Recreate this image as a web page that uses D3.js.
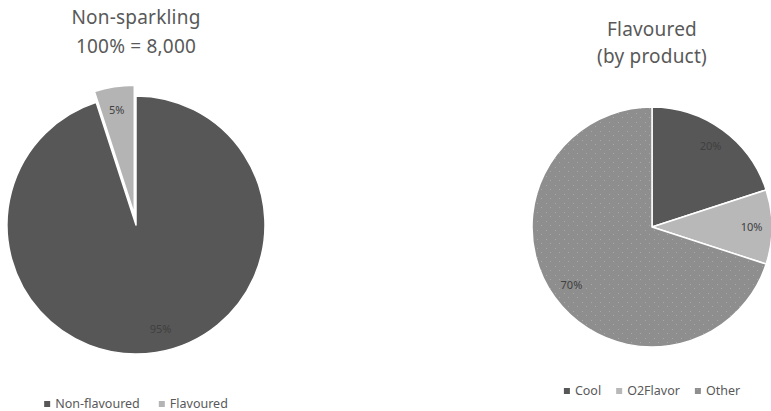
<!DOCTYPE html>
<html>
<head>
<meta charset="utf-8">
<script src="https://cdn.jsdelivr.net/npm/d3@7"></script>
<style>
  body { margin: 0; background: #fff; }
  svg { display: block; font-family: "Noto Sans", "Open Sans", sans-serif; }
  .title { fill: #595959; font-size: 19px; letter-spacing: 0.2px; }
  .legend text { fill: #595959; font-size: 12.5px; }
  .pct { fill: #404040; font-size: 11px; }
</style>
</head>
<body>
<svg id="chart" width="771" height="411"></svg>
<script>
// left pie: non-sparkling split
var leftCats = ["Non-flavoured", "Flavoured"];
var leftValues = [95, 5];
var leftTitle = ["Non-sparkling", "100% = 8,000"];

// right pie: flavoured by product
var rightCats = ["Cool", "O2Flavor", "Other"];
var rightValues = [20, 10, 70];
var rightTitle = ["Flavoured", "(by product)"];

var svg = d3.select("#chart");

var defs = svg.append("defs");
// faint dotted texture on the "Other" slice
var pat = defs.append("pattern")
    .attr("id", "dots")
    .attr("width", 9).attr("height", 9)
    .attr("patternUnits", "userSpaceOnUse");
pat.append("rect").attr("width", 9).attr("height", 9).attr("fill", "#8e8e8e");
pat.append("rect").attr("x", 2).attr("y", 3).attr("width", 1).attr("height", 1).attr("fill", "#a8a8a8");
pat.append("rect").attr("x", 6).attr("y", 7).attr("width", 1).attr("height", 1).attr("fill", "#a8a8a8");

function drawPie(cfg) {
  var g = svg.append("g");
  var pie = d3.pie().sort(null).value(function(d) { return d.v; });
  var data = pie(cfg.cats.map(function(c, i) { return { c: c, v: cfg.values[i] }; }));
  var arc = d3.arc().innerRadius(0).outerRadius(cfg.r);
  var labelArc = d3.arc().innerRadius(cfg.r * cfg.lab).outerRadius(cfg.r * cfg.lab);

  var color = d3.scaleOrdinal().domain(cfg.cats).range(cfg.colors);

  var slice = g.selectAll("g.slice")
      .data(data)
    .enter().append("g")
      .attr("class", "slice")
      .attr("transform", function(d, i) {
        var off = cfg.explode[i] || 0;
        var a = (d.startAngle + d.endAngle) / 2;
        return "translate(" + (cfg.cx + off * Math.sin(a)) + "," + (cfg.cy - off * Math.cos(a)) + ")";
      });

  slice.append("path")
      .attr("d", arc)
      .attr("fill", function(d) { return color(d.data.c); })
      .attr("stroke", "#fff")
      .attr("stroke-width", 1.5)
      .attr("stroke-linejoin", "round");

  slice.append("text")
      .attr("class", "pct")
      .attr("text-anchor", "middle")
      .attr("dy", "0.35em")
      .attr("transform", function(d, i) {
        var p = labelArc.centroid(d);
        if (cfg.labOff && cfg.labOff[i]) { p[0] += cfg.labOff[i][0]; p[1] += cfg.labOff[i][1]; }
        return "translate(" + p + ")";
      })
      .text(function(d) { return d.data.v + "%"; });

  // title
  g.selectAll("text.title")
      .data(cfg.title)
    .enter().append("text")
      .attr("class", "title")
      .attr("x", cfg.cx)
      .attr("y", function(d, i) { return cfg.titleY + i * cfg.titleGap; })
      .attr("text-anchor", "middle")
      .text(function(d) { return d; });

  // legend, centred under the pie
  var leg = g.append("g").attr("class", "legend");
  var items = leg.selectAll("g")
      .data(cfg.cats)
    .enter().append("g");
  items.append("rect")
      .attr("width", 6).attr("height", 6)
      .attr("y", -7)
      .attr("fill", function(d) { return color(d); });
  items.append("text")
      .attr("x", 11)
      .text(function(d) { return d; });

  var x = 0;
  items.each(function() {
    var w = 11 + d3.select(this).select("text").node().getComputedTextLength();
    d3.select(this).attr("transform", "translate(" + x + ",0)");
    x += w + cfg.legGap;
  });
  var total = x - cfg.legGap;
  leg.attr("transform", "translate(" + (cfg.cx - total / 2) + "," + cfg.legY + ")");
}

drawPie({
  cats: leftCats, values: leftValues, title: leftTitle,
  cx: 136, cy: 225, r: 129,
  colors: ["#575757", "#b4b4b4"],
  explode: [0, 11],
  lab: 0.82, labOff: [[8, 0], [-1, 0]],
  titleY: 24, titleGap: 29, legY: 408, legGap: 19
});

drawPie({
  cats: rightCats, values: rightValues, title: rightTitle,
  cx: 652, cy: 227, r: 120,
  colors: ["#575757", "#b8b8b8", "url(#dots)"],
  explode: [0, 0, 0],
  lab: 0.83,
  titleY: 36, titleGap: 27, legY: 395, legGap: 15
});
</script>
</body>
</html>
